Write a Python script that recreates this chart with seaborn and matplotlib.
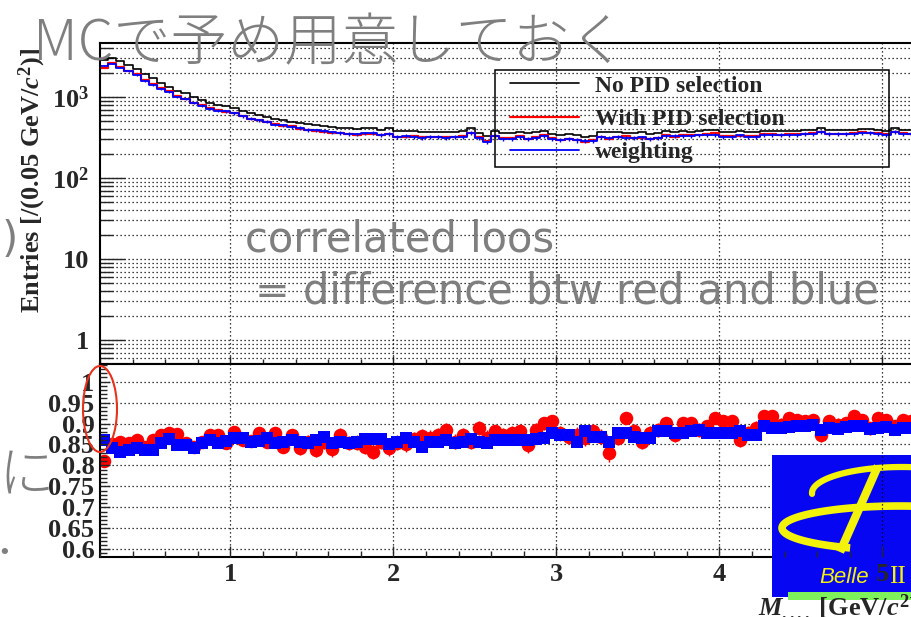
import numpy as np
import pandas as pd
import matplotlib
matplotlib.use("Agg")
import matplotlib.pyplot as plt
import matplotlib.ticker as mticker
from matplotlib import transforms as mtransforms
from matplotlib.patches import Rectangle, Ellipse
from matplotlib.lines import Line2D
from matplotlib.font_manager import FontProperties
import seaborn as sns

# ---------------------------------------------------------------- data
BIN_LO = 0.2          # GeV/c^2
BIN_WIDTH = 0.05      # GeV/c^2
N_BINS = 100

# entries per bin without any PID requirement
no_pid = [2830, 3070, 2780, 2480, 2220, 1900, 1700, 1480, 1340, 1190,
          1110, 1010, 920, 835, 795, 775, 725, 670, 630, 600,
          572, 535, 520, 496, 482, 460, 451, 438, 430, 418,
          411, 403, 411, 418, 391, 411, 380, 380, 380, 373,
          373, 373, 366, 373, 380, 418, 360, 330, 380, 357,
          357, 373, 357, 366, 380, 347, 340, 345, 340, 324,
          334, 366, 366, 366, 357, 357, 366, 347, 357, 380,
          373, 380, 373, 380, 391, 391, 366, 366, 380, 373,
          373, 380, 380, 380, 380, 380, 391, 391, 418, 391,
          391, 391, 391, 403, 403, 391, 380, 418, 391, 391]

# efficiency of the PID selection (with PID / no PID)
ratio_pid = [0.811, 0.850, 0.857, 0.854, 0.860, 0.845, 0.860, 0.873, 0.877, 0.875,
             0.854, 0.845, 0.855, 0.873, 0.873, 0.854, 0.880, 0.860, 0.858, 0.877,
             0.857, 0.877, 0.845, 0.873, 0.841, 0.857, 0.837, 0.857, 0.839, 0.872,
             0.854, 0.854, 0.845, 0.833, 0.857, 0.841, 0.854, 0.850, 0.862, 0.870,
             0.866, 0.873, 0.885, 0.857, 0.873, 0.857, 0.889, 0.866, 0.881, 0.872,
             0.877, 0.883, 0.849, 0.885, 0.901, 0.905, 0.877, 0.869, 0.873, 0.866,
             0.881, 0.869, 0.829, 0.866, 0.913, 0.881, 0.857, 0.877, 0.885, 0.901,
             0.873, 0.901, 0.901, 0.885, 0.893, 0.913, 0.905, 0.905, 0.861, 0.877,
             0.889, 0.917, 0.917, 0.897, 0.913, 0.909, 0.905, 0.909, 0.873, 0.905,
             0.897, 0.901, 0.917, 0.909, 0.889, 0.913, 0.909, 0.893, 0.909, 0.905]

# efficiency predicted by the PID weights (weighted / no PID)
ratio_weight = [0.861, 0.841, 0.833, 0.837, 0.841, 0.837, 0.837, 0.853, 0.863, 0.849,
                0.849, 0.841, 0.853, 0.861, 0.853, 0.859, 0.865, 0.865, 0.857, 0.859,
                0.865, 0.853, 0.857, 0.861, 0.857, 0.853, 0.861, 0.869, 0.853, 0.857,
                0.853, 0.857, 0.863, 0.863, 0.863, 0.852, 0.857, 0.865, 0.857, 0.845,
                0.857, 0.857, 0.861, 0.853, 0.857, 0.863, 0.857, 0.853, 0.861, 0.861,
                0.861, 0.861, 0.861, 0.863, 0.865, 0.877, 0.873, 0.873, 0.857, 0.881,
                0.869, 0.869, 0.857, 0.877, 0.877, 0.869, 0.865, 0.865, 0.881, 0.881,
                0.877, 0.877, 0.881, 0.885, 0.877, 0.877, 0.877, 0.878, 0.883, 0.873,
                0.873, 0.893, 0.889, 0.889, 0.891, 0.893, 0.893, 0.897, 0.885, 0.889,
                0.887, 0.891, 0.893, 0.893, 0.887, 0.889, 0.891, 0.885, 0.889, 0.889]

legend_labels = ["No PID selection", "With PID selection", "weighting"]
x_ticks = [1, 2, 3, 4, 5]
x_ticklabels = ["1", "2", "3", "4", "5"]
entries_ticks = [1, 10, 100, 1000]
entries_ticklabels = ["1", "10", r"$10^{2}$", r"$10^{3}$"]
ratio_ticks = [0.6, 0.65, 0.7, 0.75, 0.8, 0.85, 0.9, 0.95, 1.0]
ratio_ticklabels = ["0.6", "0.65", "0.7", "0.75", "0.8", "0.85", "0.9", "0.95", "1"]

# ---------------------------------------------------------------- derived
edges = BIN_LO + BIN_WIDTH * np.arange(N_BINS + 1)
centers = 0.5 * (edges[:-1] + edges[1:])
no_pid = np.asarray(no_pid, float)
ratio_pid = np.asarray(ratio_pid, float)
ratio_weight = np.asarray(ratio_weight, float)
with_pid = no_pid * ratio_pid
weighted = no_pid * ratio_weight
df = pd.DataFrame({"mass": centers, "no_pid": no_pid, "with_pid": with_pid,
                   "weighted": weighted, "r_pid": ratio_pid, "r_w": ratio_weight})
err_pid = np.sqrt(ratio_pid * (1 - ratio_pid) / no_pid)

# ---------------------------------------------------------------- style
sns.set_theme(style="ticks")
plt.rcParams.update({
    "font.family": ["Liberation Serif", "DejaVu Serif"],
    "font.weight": "bold",
    "mathtext.fontset": "custom",
    "mathtext.rm": "Liberation Serif:bold",
    "mathtext.it": "Liberation Serif:bold:italic",
    "mathtext.bf": "Liberation Serif:bold",
    "axes.linewidth": 1.5,
    "axes.edgecolor": "black",
})

W, H = 912, 617
fig = plt.figure(figsize=(W / 100, H / 100), dpi=100)
fig.patch.set_facecolor("white")
PIX = mtransforms.Affine2D().scale(1 / W, -1 / H).translate(0, 1) + fig.transFigure

X0, X1 = BIN_LO, BIN_LO + (W - 100) / 163.0
ax1 = fig.add_axes([100 / W, 1 - 364 / H, 1 - 100 / W, (364 - 43) / H])
ax2 = fig.add_axes([100 / W, 1 - 557 / H, 1 - 100 / W, (557 - 364) / H])

grid_kw = dict(color="black", linestyle=(0, (1, 2.2)), linewidth=0.9)
TICK_FS = 19

# ---------------------------------------------------------------- upper pad
hist_kw = dict(data=df, x="mass", binwidth=BIN_WIDTH,
               binrange=(float(edges[0]), float(edges[-1])),
               element="step", fill=False, ax=ax1)
sns.histplot(weights="no_pid", color="black", linewidth=1.2, **hist_kw)
h_black = ax1.lines[-1]
sns.histplot(weights="with_pid", color="red", linewidth=1.6, **hist_kw)
h_red = ax1.lines[-1]
sns.histplot(weights="weighted", color="blue", linewidth=1.3, **hist_kw)
h_blue = ax1.lines[-1]
ax1.errorbar(centers, weighted, yerr=np.sqrt(weighted), fmt="none",
             ecolor="blue", elinewidth=1.0, capsize=0, zorder=3)

ax1.set_yscale("log")
ax1.set_xlim(X0, X1)
ax1.set_ylim(0.505, 4650)
ax1.set_xlabel("")
ax1.set_ylabel("")
ax1.set_axisbelow(True)
ax1.set_yticks(entries_ticks, entries_ticklabels)
ax1.yaxis.set_minor_locator(mticker.LogLocator(base=10, subs=np.arange(2, 10) * 1.0, numticks=30))
ax1.yaxis.set_minor_formatter(mticker.NullFormatter())
ax1.set_xticks(x_ticks)
ax1.xaxis.set_minor_locator(mticker.MultipleLocator(0.2))
ax1.tick_params(axis="x", which="both", direction="in", labelbottom=False, bottom=True, top=False)
ax1.tick_params(axis="x", which="major", length=6, width=1.0)
ax1.tick_params(axis="x", which="minor", length=3.5, width=1.0)
ax1.tick_params(axis="y", which="major", direction="in", length=18, width=1.0,
                labelsize=TICK_FS, pad=8)
ax1.tick_params(axis="y", which="minor", direction="in", length=9, width=1.0)
ax1.grid(True, axis="y", which="both", **grid_kw)
ax1.grid(True, axis="x", which="major", **grid_kw)
ax1.spines["right"].set_visible(False)

leg = ax1.legend(handles=[h_black, h_red, h_blue], labels=legend_labels,
                 loc="upper left", bbox_to_anchor=(510 / W, 1 - 75 / H),
                 bbox_transform=fig.transFigure, frameon=False, borderpad=0,
                 borderaxespad=0, handlelength=2.92, handletextpad=0.68,
                 labelspacing=0.50,
                 prop=FontProperties(family="Liberation Serif", weight="bold", size=17))
leg.set_zorder(5)
fig.add_artist(Rectangle((495, 70), 394, 97, transform=PIX, fill=False,
                         edgecolor="black", linewidth=1.1, zorder=6))

fig.text(32, 313, r"Entries [/(0.05 GeV/$c^{2}$)]", transform=PIX, rotation=90,
         ha="center", va="bottom", fontsize=TICK_FS, fontweight="bold")

# ---------------------------------------------------------------- ratio pad
for r in ratio_ticks:
    ax2.axhline(r, zorder=0.6, **grid_kw)
for xv in x_ticks:
    ax2.axvline(xv, zorder=2.3, **grid_kw)

ax2.errorbar(centers, ratio_pid, yerr=err_pid, fmt="none", ecolor="red",
             elinewidth=1.0, capsize=0, zorder=2.34)
sns.scatterplot(data=df, x="mass", y="r_pid", color="red", marker="o", s=95,
                linewidth=0, ax=ax2, zorder=2.35)
sns.scatterplot(data=df, x="mass", y="r_w", color="blue", marker="s", s=80,
                linewidth=0, ax=ax2, zorder=2.36)

ax2.set_xlim(X0, X1)
ax2.set_ylim(0.5816, 1.042)
ax2.set_xlabel("")
ax2.set_ylabel("")
ax2.set_axisbelow(False)
ax2.set_yticks(ratio_ticks, ratio_ticklabels)
ax2.yaxis.set_minor_locator(mticker.MultipleLocator(0.01))
ax2.set_xticks(x_ticks, x_ticklabels)
ax2.xaxis.set_minor_locator(mticker.MultipleLocator(0.2))
ax2.tick_params(axis="both", which="both", direction="in", top=False, right=False)
ax2.tick_params(axis="x", which="major", length=8, width=1.0, labelsize=TICK_FS, pad=4)
ax2.tick_params(axis="x", which="minor", length=4.5, width=1.0)
ax2.tick_params(axis="y", which="major", length=7, width=1.0, labelsize=TICK_FS, pad=4)
ax2.tick_params(axis="y", which="minor", length=5, width=1.0)
ax2.spines["right"].set_visible(False)
ax2.spines["bottom"].set_zorder(2.1)

# ---------------------------------------------------------------- Belle II emblem
logo_kw = dict(transform=PIX, clip_on=False, zorder=2.2)
ax2.add_patch(Rectangle((772, 455), 200, 142, facecolor="#0606f2", edgecolor="none", **logo_kw))
yel = "#f2f20a"
t = np.radians(np.linspace(18, 182, 80))
ax2.add_line(Line2D(902 + 90 * np.cos(t), 493 - 26 * np.sin(t), color=yel, lw=4.5,
                    solid_capstyle="round", **logo_kw))
t = np.radians(np.linspace(15, 245, 120))
ax2.add_line(Line2D(900 + 118 * np.cos(t), 528 - 22 * np.sin(t), color=yel, lw=5.5,
                    solid_capstyle="butt", **logo_kw))
ax2.add_line(Line2D([840, 878], [552, 466], color=yel, lw=6, solid_capstyle="butt", **logo_kw))
ax2.text(819, 583, "Belle", color=yel, fontsize=16, family="Liberation Sans",
         style="italic", fontweight="normal", ha="left", va="baseline", **logo_kw)
ax2.text(889, 583, "II", color=yel, fontsize=18, family="Liberation Serif",
         fontweight="normal", ha="left", va="baseline", **logo_kw)

# ---------------------------------------------------------------- axis title
fig.add_artist(Rectangle((788, 592), 130, 8, transform=PIX, facecolor="#7ef25a",
                         edgecolor="none", zorder=9))
fig.text(758, 616, r"$M_{....}$ [GeV/$c^{2}$]", transform=PIX, ha="left",
         va="baseline", fontsize=TICK_FS, fontweight="bold", zorder=10)

# ---------------------------------------------------------------- slide notes
gray = "#7f7f7f"
jp = ["Noto Sans CJK JP", "DejaVu Sans"]
fig.text(33, 60, "MCで予め用意しておく", transform=PIX, color=gray, fontsize=41,
         family=jp, fontweight="light", ha="left", va="baseline", zorder=11)
fig.text(245, 252, "correlated loos", transform=PIX, color=gray, fontsize=30,
         family="DejaVu Sans", fontweight="normal", ha="left", va="baseline", zorder=11)
fig.text(255, 303, "= difference btw red and blue", transform=PIX, color=gray, fontsize=30,
         family="DejaVu Sans", fontweight="normal", ha="left", va="baseline", zorder=11)
fig.text(18, 240, ")", transform=PIX, color=gray, fontsize=30, family="DejaVu Sans",
         fontweight="normal", ha="right", va="center", zorder=11)
fig.text(-2, 476, "に", transform=PIX, color=gray, fontsize=40, family=jp,
         fontweight="light", ha="left", va="center", zorder=11)
fig.text(4, 554, ".", transform=PIX, color=gray, fontsize=30, family="Lato",
         fontweight="bold", ha="center", va="baseline", zorder=11)

fig.add_artist(Ellipse((100, 409), 34, 86, transform=PIX, fill=False,
                       edgecolor="#e8311a", linewidth=1.5, zorder=12))

fig.savefig("out.png", dpi=100)
